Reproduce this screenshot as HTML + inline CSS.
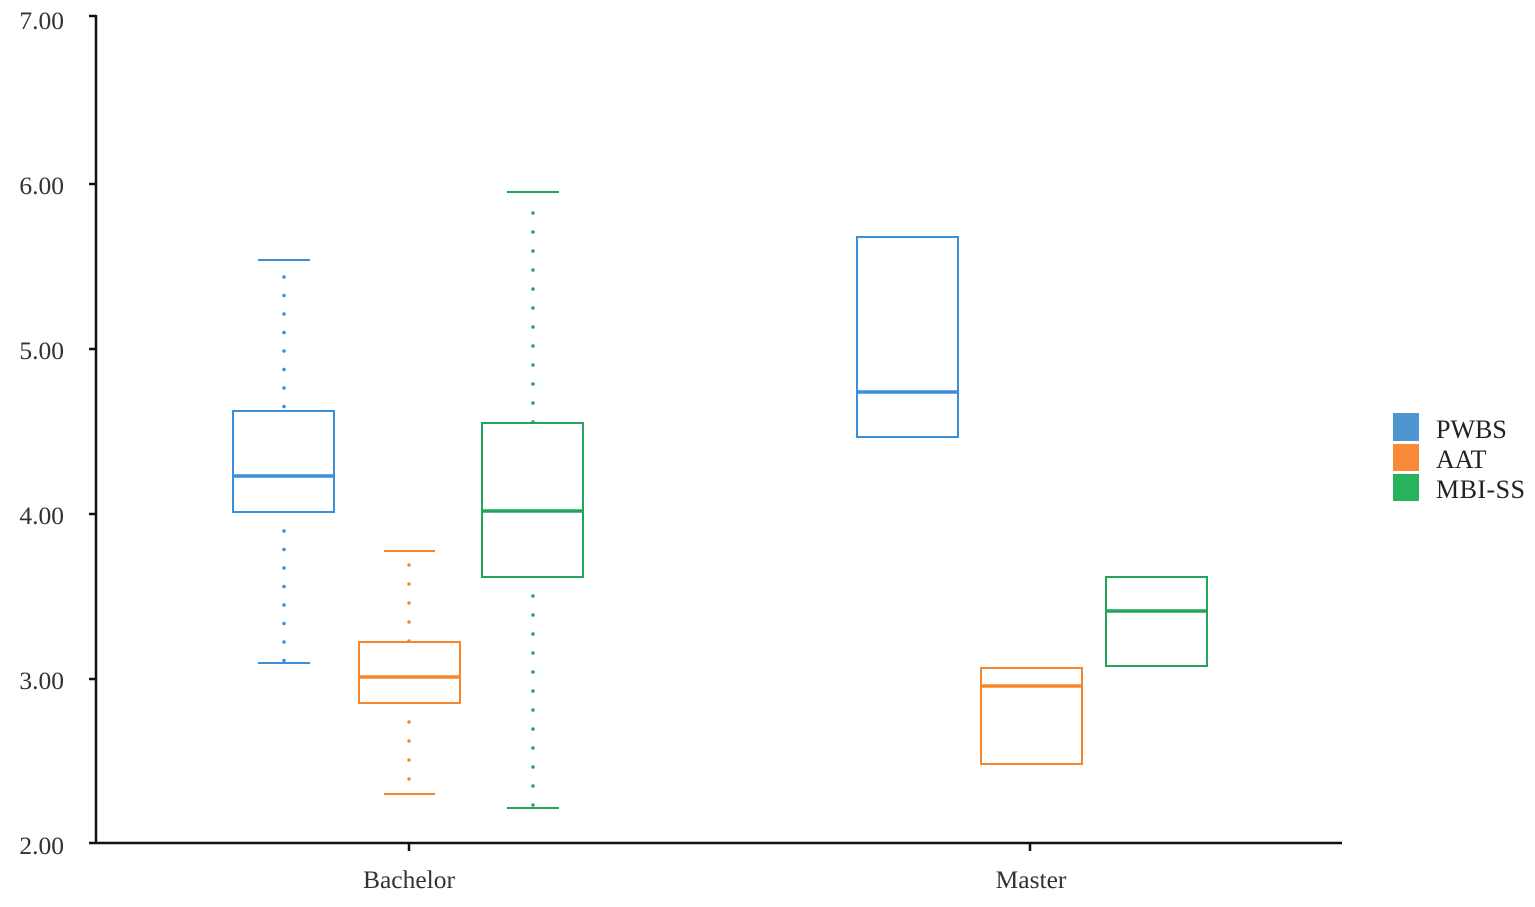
<!DOCTYPE html>
<html><head><style>html,body{margin:0;padding:0;background:#fff;}</style></head>
<body>
<svg width="1535" height="902" xmlns="http://www.w3.org/2000/svg" font-family="Liberation Serif, serif">
<rect width="1535" height="902" fill="#fff"/>
<g stroke="#111" stroke-width="2.5" fill="none">
<line x1="96" y1="15" x2="96" y2="843"/>
<line x1="89" y1="843" x2="1342" y2="843"/>
<line x1="89" y1="16" x2="96" y2="16"/>
<line x1="89" y1="184" x2="96" y2="184"/>
<line x1="89" y1="349" x2="96" y2="349"/>
<line x1="89" y1="514" x2="96" y2="514"/>
<line x1="89" y1="679" x2="96" y2="679"/>
<line x1="409" y1="843" x2="409" y2="851"/>
<line x1="1030" y1="843" x2="1030" y2="851"/>
</g>
<g font-size="25.5" fill="#333" text-anchor="end">
<text x="64" y="29">7.00</text>
<text x="64" y="194">6.00</text>
<text x="64" y="359">5.00</text>
<text x="64" y="524">4.00</text>
<text x="64" y="689">3.00</text>
<text x="64" y="854">2.00</text>
</g>
<g font-size="25.5" fill="#333" text-anchor="middle">
<text x="409" y="888">Bachelor</text>
<text x="1031" y="888">Master</text>
</g>
<g stroke="#3b8fd9" fill="none">
<line x1="284" y1="277" x2="284" y2="411" stroke-width="3.5" stroke-linecap="round" stroke-dasharray="0 18.5"/>
<line x1="284" y1="531" x2="284" y2="663" stroke-width="3.5" stroke-linecap="round" stroke-dasharray="0 18.5"/>
<line x1="258" y1="260" x2="310" y2="260" stroke-width="2"/>
<line x1="258" y1="663" x2="310" y2="663" stroke-width="2"/>
<rect x="233" y="411" width="101" height="101" stroke-width="2"/>
<line x1="233" y1="476" x2="334" y2="476" stroke-width="3.5"/>
<rect x="857" y="237" width="101" height="200" stroke-width="2"/>
<line x1="857" y1="392" x2="958" y2="392" stroke-width="3.5"/>
</g>
<g stroke="#f5862a" fill="none">
<line x1="409" y1="565" x2="409" y2="642" stroke-width="3.5" stroke-linecap="round" stroke-dasharray="0 19"/>
<line x1="409" y1="722" x2="409" y2="794" stroke-width="3.5" stroke-linecap="round" stroke-dasharray="0 19"/>
<line x1="384" y1="551" x2="435" y2="551" stroke-width="2"/>
<line x1="384" y1="794" x2="435" y2="794" stroke-width="2"/>
<rect x="359" y="642" width="101" height="61" stroke-width="2"/>
<line x1="359" y1="677" x2="460" y2="677" stroke-width="3.5"/>
<rect x="981" y="668" width="101" height="96" stroke-width="2"/>
<line x1="981" y1="686" x2="1082" y2="686" stroke-width="3.5"/>
</g>
<g stroke="#22a55a" fill="none">
<line x1="533" y1="213" x2="533" y2="423" stroke-width="3.5" stroke-linecap="round" stroke-dasharray="0 19"/>
<line x1="533" y1="596" x2="533" y2="808" stroke-width="3.5" stroke-linecap="round" stroke-dasharray="0 19"/>
<line x1="507" y1="192" x2="559" y2="192" stroke-width="2"/>
<line x1="507" y1="808" x2="559" y2="808" stroke-width="2"/>
<rect x="482" y="423" width="101" height="154" stroke-width="2"/>
<line x1="482" y1="511" x2="583" y2="511" stroke-width="3.5"/>
<rect x="1106" y="577" width="101" height="89" stroke-width="2"/>
<line x1="1106" y1="611" x2="1207" y2="611" stroke-width="3.5"/>
</g>
<rect x="1393" y="413" width="26" height="28" fill="#4d96cf"/>
<rect x="1393" y="444" width="26" height="27" fill="#f98a3a"/>
<rect x="1393" y="474" width="26" height="27" fill="#27b35b"/>
<g font-size="26" fill="#222">
<text x="1436" y="438">PWBS</text>
<text x="1436" y="468">AAT</text>
<text x="1436" y="498" textLength="89">MBI-SS</text>
</g>
</svg>
</body></html>
